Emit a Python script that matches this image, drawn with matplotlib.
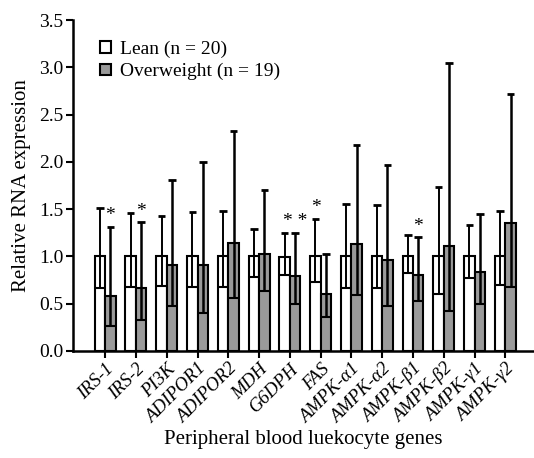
import numpy as np
import matplotlib
matplotlib.use('Agg')
import matplotlib.pyplot as plt
from matplotlib.patches import Patch

plt.rcParams['font.family'] = ['Liberation Serif', 'DejaVu Serif']

genes = ['IRS-1', 'IRS-2', 'PI3K', 'ADIPOR1', 'ADIPOR2', 'MDH', 'G6DPH', 'FAS',
         'AMPK-α1', 'AMPK-α2', 'AMPK-β1', 'AMPK-β2', 'AMPK-γ1', 'AMPK-γ2']

# Lean group (normalised to 1), upper and lower whisker ends
lean_mean = [1.0, 1.0, 1.0, 1.0, 1.0, 1.0, 0.99, 1.0, 1.0, 1.0, 1.0, 1.0, 1.0, 1.0]
lean_upper = [1.51, 1.46, 1.43, 1.47, 1.48, 1.29, 1.25, 1.40, 1.55, 1.54, 1.23, 1.73, 1.33, 1.48]
lean_lower = [0.66, 0.68, 0.69, 0.68, 0.68, 0.78, 0.80, 0.73, 0.67, 0.66, 0.82, 0.60, 0.77, 0.70]

# Overweight group
ow_mean = [0.58, 0.66, 0.91, 0.91, 1.14, 1.02, 0.79, 0.60, 1.13, 0.96, 0.80, 1.11, 0.83, 1.35]
ow_upper = [1.31, 1.36, 1.81, 2.00, 2.33, 1.70, 1.25, 1.02, 2.18, 1.97, 1.20, 3.05, 1.45, 2.72]
ow_lower = [0.26, 0.33, 0.47, 0.40, 0.56, 0.63, 0.50, 0.36, 0.59, 0.47, 0.53, 0.42, 0.50, 0.68]

# significance marks: (gene index, group, label)
stars = [(0, 'ow', '*'), (1, 'ow', '*'), (6, 'ow', '* *'), (7, 'lean', '*'), (10, 'ow', '*')]

x = np.arange(len(genes))
w = 0.34

fig = plt.figure(figsize=(5.34, 4.58), dpi=100)
ax = fig.add_axes([0.137, 0.234, 0.863, 0.722])

ax.bar(x - w/2, lean_mean, width=w, color='white', edgecolor='black', linewidth=1.5, zorder=2)
ax.bar(x + w/2, ow_mean, width=w, color='#9a9a9a', edgecolor='black', linewidth=1.5, zorder=2)

# whiskers: vertical line from lower to upper, wide line at lower end, short cap on top
for xs, lo, hi, lw in [(x - w/2, lean_lower, lean_upper, 1.4), (x + w/2, ow_lower, ow_upper, 1.8)]:
    ax.vlines(xs, lo, hi, color='black', linewidth=lw, zorder=3)
    ax.hlines(lo, xs - w/2, xs + w/2, color='black', linewidth=1.5, zorder=3)
    ax.hlines(hi, xs - w*0.36, xs + w*0.36, color='black', linewidth=2, zorder=3)

for i, grp, lab in stars:
    if grp == 'ow':
        xs, ys = x[i] + w/2, ow_upper[i]
    else:
        xs, ys = x[i] - w/2, lean_upper[i]
    ax.text(xs, ys + 0.03, lab, ha='center', va='bottom', fontsize=14)

ax.set_xlim(-1.04, 13.93)
ax.set_ylim(0, 3.5)
ax.set_yticks(np.arange(0, 3.51, 0.5))
ax.set_yticklabels([f'{v:.1f}' for v in np.arange(0, 3.51, 0.5)], fontsize=14)
ax.set_xticks(x)
ax.set_xticklabels(genes, rotation=45, ha='right', rotation_mode='anchor',
                   fontsize=13.5, style='italic')

for s in ['top', 'right']:
    ax.spines[s].set_visible(False)
for s in ['left', 'bottom']:
    ax.spines[s].set_linewidth(1.8)
ax.tick_params(axis='both', direction='out', length=5, width=1.5, pad=2)

ax.set_ylabel('Relative RNA expression', fontsize=15, labelpad=6)
ax.set_xlabel('Peripheral blood luekocyte genes', fontsize=15, labelpad=2)

handles = [Patch(facecolor='white', edgecolor='black', linewidth=1.5, label='Lean (n = 20)'),
           Patch(facecolor='#9a9a9a', edgecolor='black', linewidth=1.5, label='Overweight (n = 19)')]
ax.legend(handles=handles, loc='upper left', bbox_to_anchor=(0.02, 0.99), frameon=False,
          fontsize=14, handlelength=0.55, handleheight=0.55, handletextpad=0.5, labelspacing=0.25)

fig.savefig('out.png', dpi=100)
